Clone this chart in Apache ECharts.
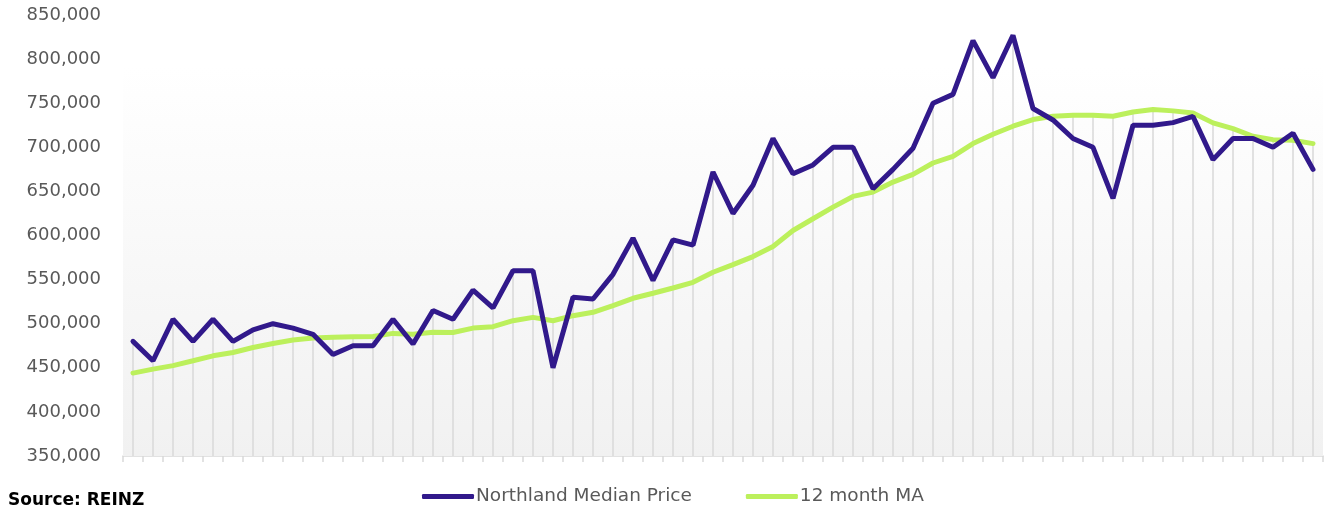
<!DOCTYPE html>
<html>
<head>
<meta charset="utf-8">
<script src="https://cdn.jsdelivr.net/npm/echarts@6/dist/echarts.min.js"></script>
<style>
  html, body { margin: 0; padding: 0; background: #fff; }
  #chart { width: 1328px; height: 512px; }
</style>
</head>
<body>
<div id="chart"></div>
<script>
// monthly points, labels are not shown on the axis
const months = Array.from({ length: 60 }, (_, i) => 'M' + (i + 1));

const medianPrice = [
  480000, 458000, 505000, 480000, 505000, 480000, 493000, 500000, 495000, 488000,
  465000, 475000, 475000, 505000, 477000, 515000, 505000, 538000, 518000, 560000,
  560000, 450000, 530000, 528000, 556000, 597000, 549000, 595000, 589000, 672000,
  625000, 657000, 710000, 670000, 680000, 700000, 700000, 653000, 675000, 699000,
  750000, 760000, 821000, 779000, 827000, 744000, 731000, 710000, 700000, 642000,
  725000, 725000, 728000, 735000, 686000, 710000, 710000, 700000, 716000, 675000
];

const movingAvg = [
  444000, 448500, 452500, 458000, 463600, 467400, 473000, 477600, 481500, 483700,
  484500, 485200, 485500, 489000, 488000, 490200, 490000, 495000, 496600, 503400,
  507200, 503400, 509100, 512900, 520500, 528800, 534500, 540500, 546900, 558300,
  567000, 576100, 587500, 605700, 619000, 632200, 644300, 649200, 660600, 669300,
  682200, 689800, 704200, 714800, 723900, 731500, 735200, 736400, 736400, 735200,
  740100, 742800, 741300, 739000, 727700, 721200, 712500, 708700, 708000, 704200
];

const yTicks = { min: 350000, max: 850000, interval: 50000 };

// drop lines reach down from the higher of the two lines
const dropLines = medianPrice.map((v, i) => Math.max(v, movingAvg[i]));

const chart = echarts.init(document.getElementById('chart'));
chart.setOption({
  animation: false,
  textStyle: { fontFamily: 'DejaVu Sans' },
  grid: { left: 123, right: 5, top: 15, bottom: 56 },
  legend: {
    data: ['Northland Median Price', '12 month MA'],
    left: 417,
    bottom: 1,
    icon: 'roundRect',
    itemWidth: 52,
    itemHeight: 5,
    itemGap: 54,
    textStyle: { color: '#595959', fontSize: 18.5, padding: [0, 0, 0, -3] }
  },
  graphic: [{
    type: 'text',
    left: 8,
    bottom: 3,
    style: { text: 'Source: REINZ', fill: '#000', font: 'bold 17px "DejaVu Sans"' }
  }],
  xAxis: {
    type: 'category',
    data: months,
    boundaryGap: true,
    axisLine: { lineStyle: { color: '#d9d9d9', width: 1.5 } },
    axisTick: { show: true, interval: 0, length: 6, lineStyle: { color: '#d9d9d9', width: 1.5 } },
    axisLabel: { show: false },
    splitLine: { show: false }
  },
  yAxis: {
    type: 'value',
    min: yTicks.min,
    max: yTicks.max,
    interval: yTicks.interval,
    axisLine: { show: false },
    axisTick: { show: false },
    splitLine: { show: false },
    axisLabel: {
      color: '#595959',
      fontSize: 18,
      margin: 22,
      formatter: v => v.toLocaleString('en-US')
    }
  },
  series: [
    {
      name: 'drop',
      type: 'bar',
      data: dropLines,
      barWidth: 1.5,
      silent: true,
      itemStyle: { color: '#d9d9d9' },
      z: 1,
      markArea: {
        silent: true,
        itemStyle: {
          color: new echarts.graphic.LinearGradient(0, 0, 0, 1, [
            { offset: 0, color: '#ffffff' },
            { offset: 1, color: '#f1f1f1' }
          ])
        },
        data: [[{ yAxis: 791000 }, { yAxis: 350000 }]]
      }
    },
    {
      name: 'Northland Median Price',
      type: 'line',
      data: medianPrice,
      symbol: 'none',
      lineStyle: { color: '#31198B', width: 5, cap: 'round' },
      itemStyle: { color: '#31198B' },
      z: 4
    },
    {
      name: '12 month MA',
      type: 'line',
      data: movingAvg,
      symbol: 'none',
      lineStyle: { color: '#BCF05C', width: 5, cap: 'round' },
      itemStyle: { color: '#BCF05C' },
      z: 3
    }
  ]
});
window.addEventListener('resize', () => chart.resize());
</script>
</body>
</html>
